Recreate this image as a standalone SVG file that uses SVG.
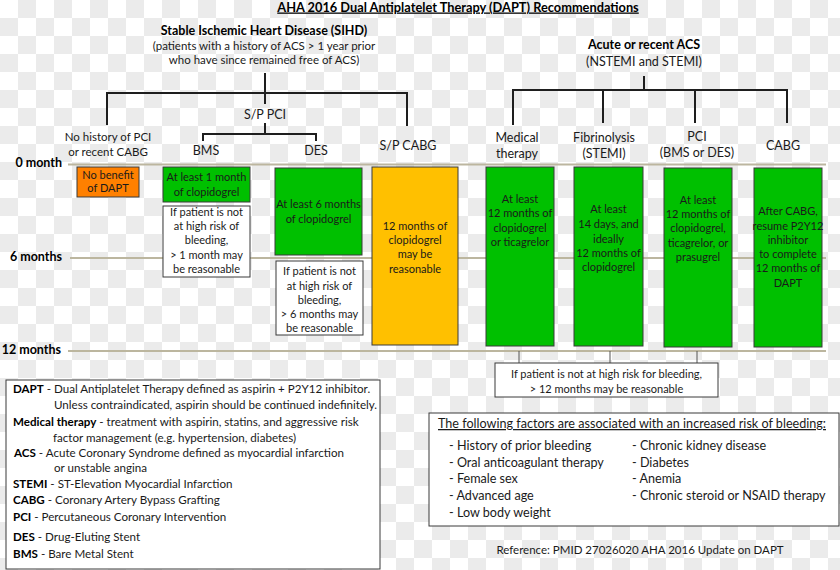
<svg xmlns="http://www.w3.org/2000/svg" width="840" height="570" viewBox="0 0 840 570">
<style>
text { font-family: Lato, "Liberation Sans", sans-serif; fill: #1a1a1a; }
.c { text-anchor: middle; }
.b { font-weight: bold; fill: #000; }
.h { font-size: 12.5px; }
.s { font-size: 11.5px; }
.bx { font-size: 11px; }
.lg { font-size: 11.6px; }
.rk { font-size: 12.6px; }
.tick { stroke: #bcb69f; stroke-width: 2; fill: none; }
.conn { stroke: #1e1e1e; stroke-width: 2; fill: none; }
.thin { stroke: #555; stroke-width: 1; fill: none; }
.g { fill: #00c000; stroke: #3a3a3a; stroke-width: 1; }
.o { fill: #ff8000; stroke: #3a3a3a; stroke-width: 1; }
.y { fill: #ffc000; stroke: #3a3a3a; stroke-width: 1; }
.w { fill: #ffffff; stroke: #3a3a3a; stroke-width: 1; }
.frame { fill: #ffffff; stroke: #3a3a3a; stroke-width: 1; }
</style>
<defs>
<pattern id="chk" x="0" y="0" width="36" height="36" patternUnits="userSpaceOnUse">
<rect width="36" height="36" fill="#ffffff"/>
<rect x="18" y="0" width="18" height="18" fill="#ebebeb"/>
<rect x="0" y="18" width="18" height="18" fill="#ebebeb"/>
</pattern>
</defs>
<rect width="840" height="570" fill="url(#chk)"/>

<g id="title">
<text x="458" y="11.5" class="c b" font-size="12.8" text-decoration="underline">AHA 2016 Dual Antiplatelet Therapy (DAPT) Recommendations</text>
</g>

<g id="timeline">
<text x="62" y="167" class="b h" text-anchor="end">0 month</text>
<text x="62" y="261" class="b h" text-anchor="end">6 months</text>
<text x="61" y="354" class="b h" text-anchor="end">12 months</text>
<line class="tick" x1="68" y1="164.5" x2="826" y2="164.5"/>
<line class="tick" x1="70" y1="258" x2="826" y2="258"/>
<line class="tick" x1="68" y1="351" x2="826" y2="351"/>
</g>

<g id="connectors">
<path class="conn" d="M265 73 V104 M107 125 V93 H407 V126"/>
<path class="conn" d="M265 123 V134 M203 141 V134 H316 V141"/>
<path class="conn" d="M644 76 V90 M513 125 V90 H787 V123 M603 90 V123 M695 90 V123"/>
<path class="thin" d="M519 351 V363 M610 351 V363 M697 351 V363"/>
</g>

<g id="sihd">
<text x="264" y="35" class="c b h">Stable Ischemic Heart Disease (SIHD)</text>
<text x="264" y="50" class="c s">(patients with a history of ACS &gt; 1 year prior</text>
<text x="264" y="64" class="c s">who have since remained free of ACS)</text>
</g>
<g id="acs">
<text x="644" y="49" class="c b h">Acute or recent ACS</text>
<text x="644" y="66" class="c h">(NSTEMI and STEMI)</text>
</g>

<g id="spPci"><text x="265" y="119" class="c h">S/P PCI</text></g>
<g id="noHistory">
<text x="108" y="141" class="c s">No history of PCI</text>
<text x="108" y="156" class="c s">or recent CABG</text>
</g>
<g id="bmsLabel"><text x="206" y="155" class="c h">BMS</text></g>
<g id="desLabel"><text x="316" y="155" class="c h">DES</text></g>
<g id="spCabg"><text x="408" y="150" class="c h">S/P CABG</text></g>
<g id="medLabel">
<text x="517" y="142" class="c h">Medical</text>
<text x="517" y="158" class="c h">therapy</text>
</g>
<g id="fibLabel">
<text x="604" y="142" class="c h">Fibrinolysis</text>
<text x="604" y="158" class="c h">(STEMI)</text>
</g>
<g id="pciLabel">
<text x="697" y="141" class="c h">PCI</text>
<text x="697" y="157" class="c h">(BMS or DES)</text>
</g>
<g id="cabgLabel"><text x="783" y="150" class="c h">CABG</text></g>

<g id="noBenefit">
<rect class="o" x="77" y="167" width="62" height="30"/>
<text x="108" y="179" class="c bx">No benefit</text>
<text x="108" y="192" class="c bx">of DAPT</text>
</g>
<g id="bms1">
<rect class="g" x="163" y="167" width="87" height="35"/>
<text x="206.5" y="181" class="c bx">At least 1 month</text>
<text x="206.5" y="196" class="c bx">of clopidogrel</text>
</g>
<g id="bmsNote">
<rect class="w" x="163" y="206" width="87" height="71"/>
<text x="206.5" y="216" class="c bx">If patient is not</text>
<text x="206.5" y="230" class="c bx">at high risk of</text>
<text x="206.5" y="244" class="c bx">bleeding,</text>
<text x="206.5" y="259" class="c bx">&gt; 1 month may</text>
<text x="206.5" y="273" class="c bx">be reasonable</text>
</g>
<g id="des6">
<rect class="g" x="275" y="168" width="87" height="87"/>
<text x="318.5" y="208" class="c bx">At least 6 months</text>
<text x="318.5" y="223" class="c bx">of clopidogrel</text>
</g>
<g id="desNote">
<rect class="w" x="276" y="261" width="87" height="74"/>
<text x="319.5" y="275" class="c bx">If patient is not</text>
<text x="319.5" y="290" class="c bx">at high risk of</text>
<text x="319.5" y="304" class="c bx">bleeding,</text>
<text x="319.5" y="318" class="c bx">&gt; 6 months may</text>
<text x="319.5" y="332" class="c bx">be reasonable</text>
</g>
<g id="cabg12">
<rect class="y" x="372" y="167" width="86" height="178"/>
<text x="415" y="230" class="c bx">12 months of</text>
<text x="415" y="244" class="c bx">clopidogrel</text>
<text x="415" y="258" class="c bx">may be</text>
<text x="415" y="273" class="c bx">reasonable</text>
</g>
<g id="medBox">
<rect class="g" x="486" y="167" width="68" height="179"/>
<text x="520" y="203" class="c bx">At least</text>
<text x="520" y="217" class="c bx">12 months of</text>
<text x="520" y="232" class="c bx">clopidogrel</text>
<text x="520" y="246" class="c bx">or ticagrelor</text>
</g>
<g id="fibBox">
<rect class="g" x="574" y="167" width="69" height="179"/>
<text x="608.5" y="213" class="c bx">At least</text>
<text x="608.5" y="228" class="c bx">14 days, and</text>
<text x="608.5" y="243" class="c bx">ideally</text>
<text x="608.5" y="257" class="c bx">12 months of</text>
<text x="608.5" y="271" class="c bx">clopidogrel</text>
</g>
<g id="pciBox">
<rect class="g" x="664" y="168" width="68" height="179"/>
<text x="698" y="204" class="c bx">At least</text>
<text x="698" y="218" class="c bx">12 months of</text>
<text x="698" y="232" class="c bx">clopidogrel,</text>
<text x="698" y="247" class="c bx">ticagrelor, or</text>
<text x="698" y="261" class="c bx">prasugrel</text>
</g>
<g id="cabgBox">
<rect class="g" x="754" y="168" width="68" height="179"/>
<text x="788" y="215" class="c bx">After CABG,</text>
<text x="788" y="230" class="c bx">resume P2Y12</text>
<text x="788" y="244" class="c bx">inhibitor</text>
<text x="788" y="258" class="c bx">to complete</text>
<text x="788" y="272" class="c bx">12 months of</text>
<text x="788" y="287" class="c bx">DAPT</text>
</g>
<g id="acsNote">
<rect class="w" x="495" y="363" width="223" height="34"/>
<text x="606.5" y="378" class="c bx">If patient is not at high risk for bleeding,</text>
<text x="606.5" y="393" class="c bx">&gt; 12 months may be reasonable</text>
</g>

<g id="legend">
<rect class="frame" x="6" y="380" width="374" height="189"/>
<text x="13" y="393" class="lg"><tspan class="b">DAPT</tspan> - Dual Antiplatelet Therapy defined as aspirin + P2Y12 inhibitor.</text>
<text x="54" y="409" class="lg">Unless contraindicated, aspirin should be continued indefinitely.</text>
<text x="13" y="426" class="lg"><tspan class="b">Medical therapy</tspan> - treatment with aspirin, statins, and aggressive risk</text>
<text x="53" y="442" class="lg">factor management (e.g. hypertension, diabetes)</text>
<text x="14" y="457" class="lg"><tspan class="b">ACS</tspan> - Acute Coronary Syndrome defined as myocardial infarction</text>
<text x="54" y="472" class="lg">or unstable angina</text>
<text x="13" y="488" class="lg"><tspan class="b">STEMI</tspan> - ST-Elevation Myocardial Infarction</text>
<text x="13" y="504" class="lg"><tspan class="b">CABG</tspan> - Coronary Artery Bypass Grafting</text>
<text x="13" y="521" class="lg"><tspan class="b">PCI</tspan> - Percutaneous Coronary Intervention</text>
<text x="13" y="541" class="lg"><tspan class="b">DES</tspan> - Drug-Eluting Stent</text>
<text x="13" y="558" class="lg"><tspan class="b">BMS</tspan> - Bare Metal Stent</text>
</g>

<g id="riskFactors">
<rect class="frame" x="429" y="413" width="410" height="113"/>
<text x="632" y="428" class="c rk" text-decoration="underline">The following factors are associated with an increased risk of bleeding:</text>
<text x="449" y="450" class="rk">- History of prior bleeding</text>
<text x="449" y="467" class="rk">- Oral anticoagulant therapy</text>
<text x="449" y="483" class="rk">- Female sex</text>
<text x="449" y="500" class="rk">- Advanced age</text>
<text x="449" y="517" class="rk">- Low body weight</text>
<text x="632" y="450" class="rk">- Chronic kidney disease</text>
<text x="632" y="467" class="rk">- Diabetes</text>
<text x="632" y="483" class="rk">- Anemia</text>
<text x="632" y="500" class="rk">- Chronic steroid or NSAID therapy</text>
</g>

<g id="reference">
<text x="640" y="554" class="c s">Reference: PMID 27026020 AHA 2016 Update on DAPT</text>
</g>
</svg>
